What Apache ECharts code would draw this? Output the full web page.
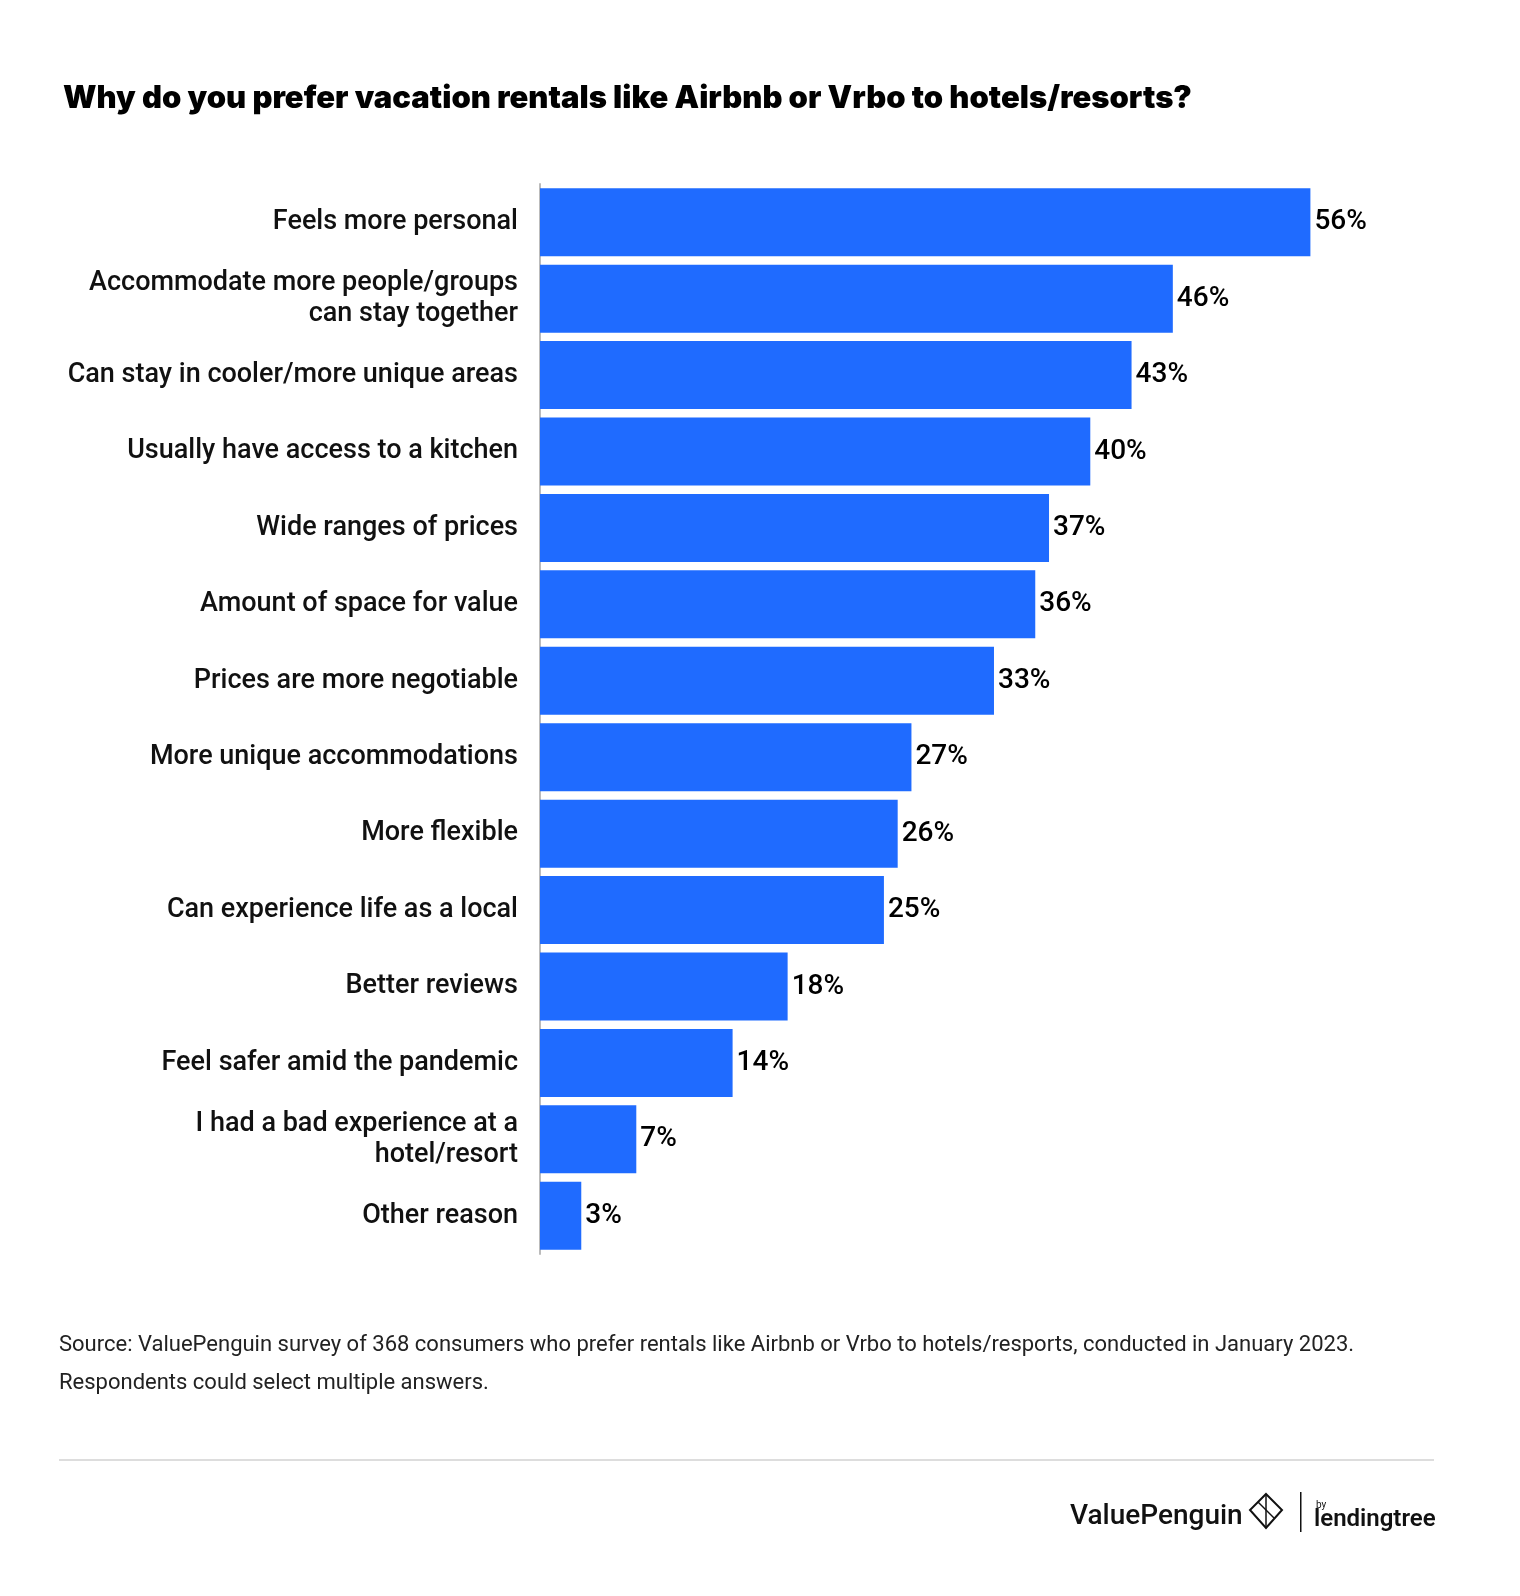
<!DOCTYPE html>
<html><head><meta charset="utf-8">
<script src="https://cdn.jsdelivr.net/npm/echarts@6/dist/echarts.min.js"></script>
<style>body{margin:0;background:#fff}#c{width:1520px;height:1596px}</style>
</head><body><div id="c"></div>
<script>
var categories = ['Feels more personal','Accommodate more people/groups\ncan stay together','Can stay in cooler/more unique areas','Usually have access to a kitchen','Wide ranges of prices','Amount of space for value','Prices are more negotiable','More unique accommodations','More flexible','Can experience life as a local','Better reviews','Feel safer amid the pandemic','I had a bad experience at a\nhotel/resort','Other reason'];
var values = [56,46,43,40,37,36,33,27,26,25,18,14,7,3];

var chart = echarts.init(document.getElementById('c'));
var font = 'Roboto';
var option = {
    backgroundColor: '#fff',
    title: {
        text: 'Why do you prefer vacation rentals like Airbnb or Vrbo to hotels/resorts?',
        left: 58, top: 78,
        textStyle: {fontFamily: 'Inter', fontSize: 31, fontWeight: 900, color: '#000'}
    },
    grid: {left: 540, right: 17, top: 184, bottom: 342},
    xAxis: {type: 'value', min: 0, max: 70, show: false},
    yAxis: {
        type: 'category', inverse: true, data: categories,
        axisLine: {lineStyle: {color: '#bbb', width: 2}},
        axisTick: {show: false},
        axisLabel: {fontFamily: font, fontSize: 27, fontWeight: 500, color: '#111', margin: 22, lineHeight: 31, align: 'right'}
    },
    series: [{
        type: 'bar', data: values, barWidth: 68,
        itemStyle: {color: '#1f6bff'},
        label: {show: true, position: 'right', distance: 4, formatter: '{c}%',
            fontFamily: font, fontSize: 28, fontWeight: 500, color: '#000'}
    }],
    graphic: [
        {type: 'text', left: 59, top: 1334, style: {text: 'Source: ValuePenguin survey of 368 consumers who prefer rentals like Airbnb or Vrbo to hotels/resports, conducted in January 2023.', font: '22px Roboto', fill: '#222'}},
        {type: 'text', left: 59, top: 1372, style: {text: 'Respondents could select multiple answers.', font: '22px Roboto', fill: '#222'}},
        {type: 'rect', shape: {x: 59, y: 1459, width: 1375, height: 2}, style: {fill: '#ddd'}},
        {type: 'text', left: 1070, top: 1503, style: {text: 'ValuePenguin', font: '500 28px Roboto', fill: '#111'}},
        {type: 'polygon', shape: {points: [[1266,1494],[1282,1510],[1266,1528],[1250,1510]]}, style: {fill: 'none', stroke: '#111', lineWidth: 2}},
        {type: 'polyline', shape: {points: [[1258,1502],[1274,1518]]}, style: {stroke: '#111', lineWidth: 1.5}},
        {type: 'polyline', shape: {points: [[1266,1494],[1266,1528]]}, style: {stroke: '#111', lineWidth: 1.5}},
        {type: 'rect', shape: {x: 1300, y: 1492, width: 1.5, height: 40}, style: {fill: '#111'}},
        {type: 'text', left: 1316, top: 1500, style: {text: 'by', font: '10px Roboto', fill: '#111'}},
        {type: 'text', left: 1314, top: 1508, style: {text: 'lendingtree', font: '600 24px Roboto', fill: '#111'}}
    ]
};
chart.setOption(option);
</script></body></html>
